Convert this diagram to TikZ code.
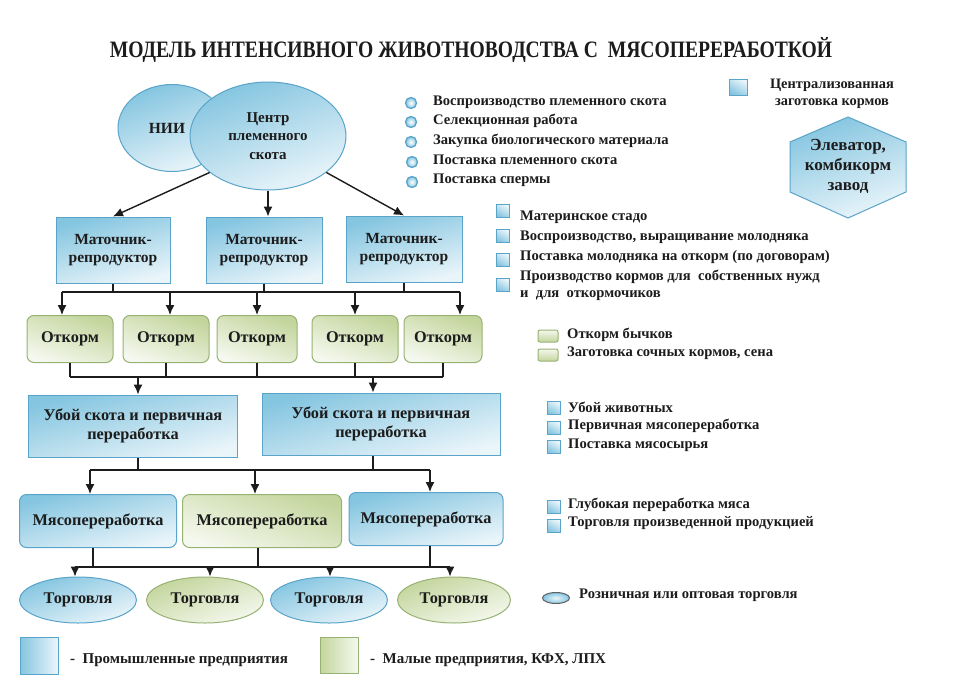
\documentclass[tikz,border=0pt]{standalone}
\usepackage{fontspec}
\setmainfont{Liberation Serif}
\usetikzlibrary{shapes.geometric,arrows.meta,shadings}
\definecolor{blueA}{HTML}{84C5E0}
\definecolor{blueB}{HTML}{EAF5FA}
\definecolor{blueD}{HTML}{5AA4C9}
\definecolor{greenA}{HTML}{C3D59C}
\definecolor{greenB}{HTML}{F5F8EE}
\definecolor{greenD}{HTML}{98B273}
\definecolor{ink}{HTML}{1C1C1C}
\tikzset{
  base/.style={font=\bfseries\fontsize{16.3}{18.5}\selectfont, text=ink, align=center, inner sep=0pt},
  bluerect/.style={base, rectangle, draw=blueD, line width=1pt, top color=blueA, bottom color=blueB, shading angle=15},
  bluernd/.style={bluerect, rounded corners=7pt},
  greenrnd/.style={base, rectangle, rounded corners=7pt, draw=greenD, line width=1pt, top color=greenA, bottom color=greenB, shading angle=-20},
  blueell/.style={base, ellipse, draw=blueD, line width=1pt, top color=blueA, bottom color=blueB, shading angle=20},
  greenell/.style={base, ellipse, draw=greenD, line width=1pt, top color=greenA, bottom color=greenB, shading angle=20},
  leg/.style={font=\bfseries\fontsize{14.6}{17}\selectfont, text=ink, inner sep=0pt, anchor=west},
  bul/.style={circle, minimum size=11pt, inner sep=0pt, draw=blueD, line width=1.3pt, inner color=white, outer color=blueA},
  sq/.style={rectangle, minimum width=13pt, minimum height=13pt, inner sep=0pt, draw=blueD, line width=1pt, top color=blueB, bottom color=blueA, shading angle=-30},
  gsq/.style={rectangle, rounded corners=2pt, minimum width=20pt, minimum height=12pt, inner sep=0pt, draw=greenD, line width=1pt, top color=greenB, bottom color=greenA},
  ln/.style={line width=1.4pt, draw=ink},
  arr/.style={ln, -{Latex[length=10pt,width=9pt]}},
  matbox/.style={bluerect, font=\bfseries\fontsize{15.5}{18.5}\selectfont, minimum height=66pt}
}
\begin{document}
\begin{tikzpicture}[x=1pt,y=-1pt]
\useasboundingbox (0,0) rectangle (955,685);
\fill[white] (0,0) rectangle (955,685);

% title
\node[font=\bfseries\fontsize{19.6}{22}\selectfont, text=ink] (title) at (471,50) {\scalebox{1}[1.2]{МОДЕЛЬ ИНТЕНСИВНОГО ЖИВОТНОВОДСТВА С~~МЯСОПЕРЕРАБОТКОЙ}};

% top ellipses
\node[blueell, minimum width=108pt, minimum height=87pt, font=\bfseries\fontsize{15.5}{17}\selectfont] (nii) at (172,128) {НИИ\hspace*{10pt}};
\node[blueell, minimum width=156pt, minimum height=108pt, font=\bfseries\fontsize{15}{18.5}\selectfont] (cen) at (268,136) {Центр\\племенного\\скота};

% Matochnik boxes
\node[matbox, minimum width=114pt] (m1) at (113,250) {Маточник-\\репродуктор};
\node[matbox, minimum width=116pt] (m2) at (264,250) {Маточник-\\репродуктор};
\node[matbox, minimum width=116pt] (m3) at (404,249) {Маточник-\\репродуктор};

\draw[arr] (cen.212) -- (m1.north);
\draw[arr] (cen.south) -- (cen.south |- m2.north);
\draw[arr] (cen.328) -- (m3.north);

% Otkorm boxes
\node[greenrnd, minimum width=86pt, minimum height=47pt] (o1) at (70,339) {Откорм};
\node[greenrnd, minimum width=86pt, minimum height=47pt] (o2) at (166,339) {Откорм};
\node[greenrnd, minimum width=80pt, minimum height=47pt] (o3) at (257,339) {Откорм};
\node[greenrnd, minimum width=86pt, minimum height=47pt] (o4) at (355,339) {Откорм};
\node[greenrnd, minimum width=78pt, minimum height=47pt] (o5) at (443,339) {Откорм};

\coordinate (bus1L) at (62,292);
\coordinate (bus1R) at (460,292);
\draw[ln] (bus1L) -- (bus1R);
\draw[ln] (m1.south) -- (m1.south |- bus1L);
\draw[ln] (m2.south) -- (m2.south |- bus1L);
\draw[ln] (m3.south) -- (m3.south |- bus1L);
\coordinate (a1) at (62,292);
\coordinate (a2) at (170,292);
\coordinate (a3) at (257,292);
\coordinate (a4) at (355,292);
\coordinate (a5) at (460,292);
\draw[arr] (a1) -- (a1 |- o1.north);
\draw[arr] (a2) -- (a2 |- o2.north);
\draw[arr] (a3) -- (a3 |- o3.north);
\draw[arr] (a4) -- (a4 |- o4.north);
\draw[arr] (a5) -- (a5 |- o5.north);

% Uboi boxes
\node[bluerect, minimum width=209pt, minimum height=62pt] (u1) at (133,426) {Убой скота и первичная\\переработка};
\node[bluerect, minimum width=238pt, minimum height=62pt] (u2) at (381,424) {Убой скота и первичная\\переработка};

\coordinate (bus2) at (0,377);
\draw[ln] (o1.south |- bus2) -- (o5.south |- bus2);
\foreach \n in {o1,o2,o3,o4,o5} \draw[ln] (\n.south) -- (\n.south |- bus2);
\coordinate (b1) at (138,377);
\coordinate (b2) at (373,377);
\draw[arr] (b1) -- (b1 |- u1.north);
\draw[arr] (b2) -- (b2 |- u2.north);

% Myasopererabotka
\node[bluernd, minimum width=157pt, minimum height=53pt] (p1) at (98,521) {Мясопереработка};
\node[greenrnd, minimum width=159pt, minimum height=53pt] (p2) at (262,521) {Мясопереработка};
\node[bluernd, minimum width=154pt, minimum height=53pt] (p3) at (426,519) {Мясопереработка};

\coordinate (bus3L) at (90,470);
\coordinate (bus3R) at (430,470);
\draw[ln] (bus3L) -- (bus3R);
\draw[ln] (b1 |- u1.south) -- (b1 |- bus3L);
\draw[ln] (b2 |- u2.south) -- (b2 |- bus3L);
\coordinate (c1) at (90,470);
\coordinate (c2) at (255,470);
\coordinate (c3) at (430,470);
\draw[arr] (c1) -- (c1 |- p1.north);
\draw[arr] (c2) -- (c2 |- p2.north);
\draw[arr] (c3) -- (c3 |- p3.north);

% Torgovlya
\node[blueell, minimum width=117pt, minimum height=46pt] (t1) at (78,600) {\raisebox{-4pt}{Торговля}};
\node[greenell, minimum width=117pt, minimum height=46pt] (t2) at (205,600) {\raisebox{-4pt}{Торговля}};
\node[blueell, minimum width=117pt, minimum height=46pt] (t3) at (329,600) {\raisebox{-4pt}{Торговля}};
\node[greenell, minimum width=113pt, minimum height=46pt] (t4) at (454,600) {\raisebox{-4pt}{Торговля}};

\coordinate (bus4L) at (75,567);
\coordinate (bus4R) at (450,567);
\draw[ln] (bus4L) -- (bus4R);
\coordinate (d1) at (93,567);
\coordinate (d2) at (258,567);
\coordinate (d3) at (430,567);
\draw[ln] (d1 |- p1.south) -- (d1);
\draw[ln] (d2 |- p2.south) -- (d2);
\draw[ln] (d3 |- p3.south) -- (d3);
\coordinate (e1) at (75,567);
\coordinate (e2) at (210,567);
\coordinate (e3) at (330,567);
\coordinate (e4) at (450,567);
\draw[arr] (e1) -- (e1 |- t1.north);
\draw[arr] (e2) -- (e2 |- t2.north);
\draw[arr] (e3) -- (e3 |- t3.north);
\draw[arr] (e4) -- (e4 |- t4.north);

% hexagon
\draw[draw=blueD, line width=1pt, top color=blueA, bottom color=blueB, shading angle=20]
  (848,117) -- (906,142) -- (906,192) -- (848,218) -- (790,192) -- (790,142) -- cycle;
\node[base, font=\bfseries\fontsize{17}{20}\selectfont] (elev) at (848,166) {Элеватор,\\комбикорм\\завод};

% top right legend
\node[sq, minimum width=18pt, minimum height=16pt] (sq0) at (738,87) {};
\node[font=\bfseries\fontsize{14.4}{16.5}\selectfont, text=ink, align=center, inner sep=0pt] (cz) at (832,94) {Централизованная\\заготовка кормов};

% bullet list
\node[bul] (k1) at (411,103) {};
\node[bul] (k2) at (411,122) {};
\node[bul] (k3) at (411,142) {};
\node[bul] (k4) at (412,162) {};
\node[bul] (k5) at (412,182) {};
\node[leg] (l1) at (433,102) {Воспроизводство племенного скота};
\node[leg] (l2) at (433,121) {Селекционная работа};
\node[leg] (l3) at (433,141) {Закупка биологического материала};
\node[leg] (l4) at (433,160) {Поставка племенного скота};
\node[leg] (l5) at (433,180) {Поставка спермы};

% square list 1
\node[sq] (s1) at (503,211) {};
\node[sq] (s2) at (503,236) {};
\node[sq] (s3) at (503,260) {};
\node[sq] (s4) at (503,285) {};
\node[leg] (r1) at (520,217) {Материнское стадо};
\node[leg] (r2) at (520,237) {Воспроизводство, выращивание молодняка};
\node[leg] (r3) at (520,257) {Поставка молодняка на откорм (по договорам)};
\node[leg] (r4) at (520,277) {Производство кормов для~~собственных нужд};
\node[leg] (r5) at (520,296) {и~~для~~откормочиков};

% green list
\node[gsq] (g1) at (548,336) {};
\node[gsq] (g2) at (548,355) {};
\node[leg] (gt1) at (567,335) {Откорм бычков};
\node[leg] (gt2) at (567,353) {Заготовка сочных кормов, сена};

% blue list 2
\node[sq] (s5) at (554,408) {};
\node[sq] (s6) at (554,428) {};
\node[sq] (s7) at (554,447) {};
\node[leg] (r6) at (568,407) {Убой животных};
\node[leg] (r7) at (568,426) {Первичная мясопереработка};
\node[leg] (r8) at (568,445) {Поставка мясосырья};

% blue list 3
\node[sq] (s8) at (554,507) {};
\node[sq] (s9) at (554,526) {};
\node[leg] (r9) at (568,505) {Глубокая переработка мяса};
\node[leg] (r10) at (568,523) {Торговля произведенной продукцией};

% ellipse legend
\node[ellipse, minimum width=27pt, minimum height=11pt, inner sep=0pt, draw=ink!70, line width=1pt, inner color=blueB, outer color=blueA] (el) at (556,598) {};
\node[leg] (r11) at (579,595) {Розничная или оптовая торговля};

% bottom legend
\node[rectangle, minimum width=38pt, minimum height=37pt, inner sep=0pt, draw=blueD, line width=1pt, left color=blueA, right color=blueB] (lb) at (39,656) {};
\node[leg, font=\bfseries\fontsize{15}{17}\selectfont] (lbt) at (70,660) {-~~Промышленные предприятия};
\node[rectangle, minimum width=38pt, minimum height=36pt, inner sep=0pt, draw=greenD, line width=1pt, left color=greenA, right color=greenB] (lg) at (339,655) {};
\node[leg, font=\bfseries\fontsize{15}{17}\selectfont] (lgt) at (370,660) {-~~Малые предприятия, КФХ, ЛПХ};
\end{tikzpicture}
\end{document}
